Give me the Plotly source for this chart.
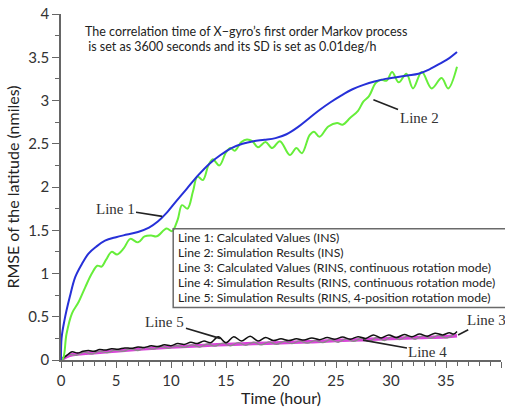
import plotly.graph_objects as go

# ---------------- data ----------------
line1_x = [0, 0.05, 0.3, 0.8, 1.3, 1.9, 2.5, 3.2, 4, 5, 6, 7, 8, 8.8, 9.6, 10.5, 11.5,
           12.5, 13.5, 14.5, 15.5, 16.5, 17.5, 18.5, 19.5, 20.5, 21.5, 22.5, 23.5, 24.5, 25.5, 26.5,
           27.5, 28.5, 29.5, 30.5, 31.5, 32.5, 33.5, 34.5, 35.3, 36]
line1_y = [0, 0.25, 0.45, 0.73, 0.96, 1.11, 1.23, 1.31, 1.38, 1.42, 1.45, 1.48, 1.53, 1.60, 1.70,
           1.84, 1.99, 2.14, 2.27, 2.37, 2.45, 2.50, 2.53, 2.545, 2.565, 2.61, 2.69, 2.79, 2.89, 2.98,
           3.06, 3.13, 3.18, 3.22, 3.25, 3.27, 3.29, 3.31, 3.36, 3.43, 3.49, 3.56]

line2_x = [0, 0.2, 0.5, 1.0, 1.6, 2.2, 2.8, 3.3, 3.7, 4.1, 4.6, 5.1, 5.7, 6.3, 7.0, 7.6, 8.2, 8.7, 9.6,
           10.1, 10.6, 11.0, 11.5, 12.0, 12.4, 12.9, 13.4, 13.8, 14.4, 15.0, 15.4, 15.8, 16.4, 16.9,
           17.4, 17.9, 18.6, 19.2, 19.9, 20.8, 21.4, 21.9, 22.6, 23.0, 23.5, 24.3, 25.1, 25.6, 26.3,
           27.0, 27.5, 28.0, 28.6, 29.1, 29.6, 30.1, 30.7, 31.4, 32.0, 32.8, 33.7, 34.6, 35.2, 36.0]
line2_y = [0, 0.02, 0.3, 0.54, 0.67, 0.84, 1.0, 1.09, 1.08, 1.16, 1.25, 1.22, 1.29, 1.40, 1.36, 1.43,
           1.44, 1.43, 1.52, 1.49, 1.62, 1.79, 1.75, 1.95, 2.12, 2.08, 2.25, 2.32, 2.25, 2.40, 2.45,
           2.42, 2.52, 2.55, 2.53, 2.46, 2.52, 2.45, 2.53, 2.37, 2.45, 2.39, 2.60, 2.64, 2.58, 2.70,
           2.74, 2.72, 2.80, 2.88, 2.99, 3.05, 3.20, 3.24, 3.23, 3.33, 3.21, 3.31, 3.14, 3.33, 3.14,
           3.26, 3.14, 3.39]

line3_x = [0, 0.5, 1, 2, 3, 5, 7.5, 10, 12.5, 15, 17.5, 20, 22.5, 25, 27.5, 30, 32.5, 35, 36]
line3_y = [0, 0.04, 0.06, 0.075, 0.085, 0.105, 0.13, 0.15, 0.165, 0.18, 0.19, 0.2, 0.21, 0.225,
           0.235, 0.25, 0.26, 0.27, 0.28]

line4_x = [0, 0.7, 1.4, 2.1, 2.8, 3.5, 4.2, 4.9, 5.6, 6.3, 7.0, 7.7, 8.4, 9.1, 9.8, 10.5, 11.2, 11.9,
           12.6, 13.3, 14.0, 14.7, 15.4, 16.1, 16.8, 17.5, 18.2, 18.9, 19.6, 20.3, 21.0, 21.7, 22.4,
           23.1, 23.8, 24.5, 25.2, 25.9, 26.6, 27.3, 28.0, 28.7, 29.4, 30.1, 30.8, 31.5, 32.2, 32.9,
           33.6, 34.3, 35.0, 35.7]
line4_y = [0, 0.06, 0.055, 0.09, 0.07, 0.10, 0.085, 0.115, 0.10, 0.13, 0.11, 0.145, 0.125, 0.155,
           0.135, 0.165, 0.145, 0.175, 0.15, 0.185, 0.16, 0.195, 0.165, 0.2, 0.17, 0.205, 0.175, 0.21,
           0.18, 0.215, 0.19, 0.22, 0.195, 0.225, 0.2, 0.235, 0.205, 0.245, 0.215, 0.25, 0.215, 0.26,
           0.225, 0.27, 0.235, 0.275, 0.24, 0.28, 0.25, 0.285, 0.255, 0.29]

line5_x = [0, 0.5, 1.0, 1.5, 2.0, 2.5, 3.0, 3.5, 4.0, 4.6, 5.2, 5.8, 6.4, 7.0, 7.6, 8.2, 8.8, 9.4,
           10.0, 10.6, 11.2, 11.8, 12.4, 13.0, 13.6, 14.3, 15.0, 15.7, 16.4, 17.2, 17.9, 18.6, 19.3,
           20.0, 20.7, 21.4, 22.1, 22.8, 23.5, 24.2, 24.9, 25.6, 26.3, 27.0, 27.7, 28.4, 29.1, 29.8,
           30.5, 31.2, 31.9, 32.6, 33.3, 34.0, 34.7, 35.3, 35.7, 36.0]
line5_y = [0, 0.05, 0.095, 0.08, 0.10, 0.11, 0.10, 0.12, 0.115, 0.13, 0.125, 0.14, 0.135, 0.15,
           0.145, 0.165, 0.155, 0.175, 0.165, 0.19, 0.18, 0.205, 0.19, 0.22, 0.2, 0.27, 0.2, 0.27,
           0.22, 0.275, 0.22, 0.26, 0.225, 0.245, 0.225, 0.245, 0.23, 0.255, 0.235, 0.26, 0.24, 0.265,
           0.24, 0.27, 0.25, 0.29, 0.255, 0.29, 0.26, 0.295, 0.27, 0.3, 0.275, 0.31, 0.29, 0.315, 0.3,
           0.33]

legend_labels = [
    "Line 1: Calculated Values (INS)",
    "Line 2: Simulation Results (INS)",
    "Line 3: Calculated Values (RINS, continuous rotation mode)",
    "Line 4: Simulation Results (RINS, continuous rotation mode)",
    "Line 5: Simulation Results (RINS, 4-position rotation mode)",
]
note_lines = [
    "The correlation time of X\u2212gyro\u2019s first order Markov process",
    " is set as 3600 seconds and its SD is set as 0.01deg/h",
]
x_title = "Time (hour)"
y_title = "RMSE of the latitude (nmiles)"

SANS = "Lato"
SERIF = "Liberation Serif"

fig = go.Figure()
fig.add_trace(go.Scatter(x=line3_x, y=line3_y, mode="lines", line=dict(color="#d845d8", width=3.5, shape="spline")))
fig.add_trace(go.Scatter(x=line4_x, y=line4_y, mode="lines", line=dict(color="#8a8a8a", width=1.3, shape="spline")))
fig.add_trace(go.Scatter(x=line5_x, y=line5_y, mode="lines", line=dict(color="#111111", width=1.5, shape="spline")))
fig.add_trace(go.Scatter(x=line2_x, y=line2_y, mode="lines", line=dict(color="#66ee3a", width=2, shape="spline")))
fig.add_trace(go.Scatter(x=line1_x, y=line1_y, mode="lines", line=dict(color="#2630d8", width=2, shape="spline")))

axis_common = dict(showgrid=False, zeroline=False, showline=True, linecolor="#666", linewidth=1.5,
                   ticks="outside", tickcolor="#666", tickwidth=1.2,
                   tickfont=dict(family=SANS, size=15, color="#333"))

fig.update_xaxes(range=[0, 40], dtick=5, tick0=0, ticklen=6,
                 minor=dict(dtick=1, ticks="outside", ticklen=4, tickcolor="#666"),
                 title=dict(text=x_title, font=dict(family=SANS, size=16, color="#222"), standoff=2),
                 **axis_common)
fig.update_yaxes(range=[0, 4], dtick=0.5, tick0=0, ticklen=7,
                 minor=dict(dtick=0.25, ticks="outside", ticklen=4, tickcolor="#666"),
                 title=dict(text=y_title, font=dict(family=SANS, size=16, color="#222"), standoff=5),
                 **axis_common)

annotations = []
# note at top
for t, yy in zip(note_lines, [0.948, 0.905]):
    annotations.append(dict(xref="paper", yref="paper", x=0.05, y=yy, xanchor="left", yanchor="middle",
                            text=t, showarrow=False, font=dict(family=SANS, size=12.5, color="#222")))
# legend text
for t, yy in zip(legend_labels, [0.354, 0.311, 0.268, 0.225, 0.182]):
    annotations.append(dict(xref="paper", yref="paper", x=0.262, y=yy, xanchor="left", yanchor="middle",
                            text=t, showarrow=False, font=dict(family=SANS, size=12.2, color="#222")))

# line labels with pointer lines
labels = [("Line 1", 9.2, 1.66, 4.91, 1.747),
          ("Line 2", 28.4, 3.01, 32.55, 2.797),
          ("Line 5", 14.45, 0.25, 9.45, 0.44),
          ("Line 3", 36.1, 0.29, 38.7, 0.46),
          ("Line 4", 27.45, 0.23, 33.36, 0.095)]
for t, hx, hy, tx, ty in labels:
    annotations.append(dict(xref="x", yref="y", axref="x", ayref="y", x=hx, y=hy, ax=tx, ay=ty,
                            text=t, showarrow=True, arrowhead=0, arrowwidth=1.6, arrowcolor="#222",
                            standoff=0, font=dict(family=SERIF, size=15, color="#333")))

fig.update_layout(
    width=505, height=407,
    margin=dict(l=61, r=4, t=12, b=47),
    paper_bgcolor="white", plot_bgcolor="white",
    showlegend=False,
    annotations=annotations,
    shapes=[dict(type="rect", xref="paper", yref="paper", x0=0.255, x1=1.03, y0=0.152, y1=0.379,
                 line=dict(color="#6a6a6a", width=1.5), fillcolor="rgba(0,0,0,0)", layer="above")],
)

fig.write_html("out.html")
